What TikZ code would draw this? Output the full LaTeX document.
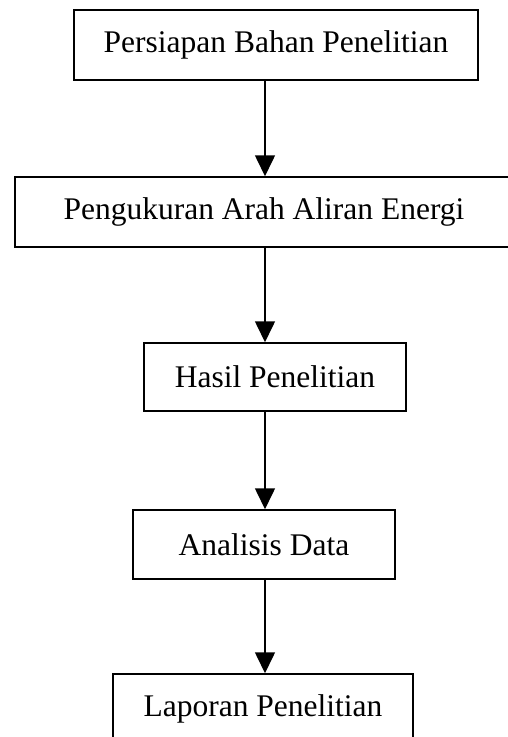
\documentclass[tikz,border=0pt]{standalone}
\usepackage{fontspec}
\setmainfont{Liberation Serif}
\usepackage{tikz}
\usetikzlibrary{arrows.meta,positioning}

\tikzset{
  procbox/.style={draw, line width=1.5pt, inner sep=0pt, minimum height=70pt,
    font=\fontsize{31.5}{36}\selectfont},
  flow/.style={line width=1.6pt, -{Triangle[length=21pt,width=20pt]}}
}

\begin{document}
\begin{tikzpicture}[x=1pt,y=-1pt]
      \useasboundingbox (0,0) rectangle (508,737);
      \coordinate (axis) at (265,0);
      \node[procbox, minimum width=404pt] (prep) at (276,45) {Persiapan Bahan Penelitian};
      \node[procbox, minimum width=498pt] (measure) at (264,212) {Pengukuran Arah Aliran Energi};
      \node[procbox, minimum width=262pt, minimum height=68pt] (result) at (275,377) {Hasil Penelitian};
      \node[procbox, minimum width=262pt, minimum height=69pt] (analysis) at (264,544.5) {Analisis Data};
      \node[procbox, minimum width=300pt] (report) at (263,709) {Laporan Penelitian};
      \draw[flow] (axis |- prep.south) -- (axis |- measure.north);
      \draw[flow] (axis |- measure.south) -- (axis |- result.north);
      \draw[flow] (axis |- result.south) -- (axis |- analysis.north);
      \draw[flow] (axis |- analysis.south) -- (axis |- report.north);
    \end{tikzpicture}
\end{document}
